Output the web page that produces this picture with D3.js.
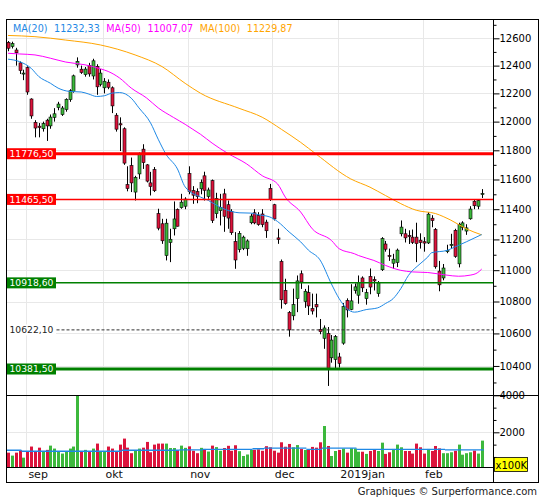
<!DOCTYPE html>
<html>
<head>
<meta charset="utf-8">
<script src="https://cdn.jsdelivr.net/npm/d3@7/dist/d3.min.js"></script>
<style>
  body { margin: 0; background: #fff; }
  svg { display: block; font-family: "DejaVu Sans", Verdana, sans-serif; }
</style>
</head>
<body>
<svg id="chart" width="545" height="500"></svg>
<script>
// trading days shown, 28 aug 2018 -> 25 feb 2019
var dates = [
  "2018-08-28","2018-08-29","2018-08-30","2018-08-31",
  "2018-09-03","2018-09-04","2018-09-05","2018-09-06","2018-09-07","2018-09-10","2018-09-11","2018-09-12","2018-09-13","2018-09-14",
  "2018-09-17","2018-09-18","2018-09-19","2018-09-20","2018-09-21","2018-09-24","2018-09-25","2018-09-26","2018-09-27","2018-09-28",
  "2018-10-01","2018-10-02","2018-10-04","2018-10-05","2018-10-08","2018-10-09","2018-10-10","2018-10-11","2018-10-12","2018-10-15",
  "2018-10-16","2018-10-17","2018-10-18","2018-10-19","2018-10-22","2018-10-23","2018-10-24","2018-10-25","2018-10-26","2018-10-29",
  "2018-10-30","2018-10-31",
  "2018-11-01","2018-11-02","2018-11-05","2018-11-06","2018-11-07","2018-11-08","2018-11-09","2018-11-12","2018-11-13","2018-11-14",
  "2018-11-15","2018-11-16","2018-11-19","2018-11-20","2018-11-21","2018-11-22","2018-11-23","2018-11-26","2018-11-27","2018-11-28",
  "2018-11-29","2018-11-30",
  "2018-12-03","2018-12-04","2018-12-05","2018-12-06","2018-12-07","2018-12-10","2018-12-11","2018-12-12","2018-12-13","2018-12-14",
  "2018-12-17","2018-12-18","2018-12-19","2018-12-20","2018-12-21","2018-12-27","2018-12-28",
  "2019-01-02","2019-01-03","2019-01-04","2019-01-07","2019-01-08","2019-01-09","2019-01-10","2019-01-11","2019-01-14","2019-01-15",
  "2019-01-16","2019-01-17","2019-01-18","2019-01-21","2019-01-22","2019-01-23","2019-01-24","2019-01-25","2019-01-28","2019-01-29",
  "2019-01-30","2019-01-31",
  "2019-02-01","2019-02-04","2019-02-05","2019-02-06","2019-02-07","2019-02-08","2019-02-11","2019-02-12","2019-02-13","2019-02-14",
  "2019-02-15","2019-02-18","2019-02-19","2019-02-20","2019-02-21","2019-02-22","2019-02-25"
];

var open = [
  12570,12540,12514,12420,12340,12385,12160,11995,11968,11950,12010,11970,12030,12100,12050,12085,12155,12215,12405,12374,12335,12400,12325,12395,
  12265,12240,12280,12240,12045,11985,11950,11565,11695,11515,11638,11808,11700,11577,11667,11370,11303,11095,11180,11270,11398,11410,
  11420,11640,11525,11518,11537,11625,11485,11592,11370,11390,11503,11430,11385,11186,11134,11142,11139,11310,11376,11358,11368,11314,
  11540,11430,11210,11056,10871,10730,10710,10818,10977,10800,10857,10755,10780,10625,10570,10600,10450,
  10440,10455,10540,10806,10750,10870,10840,10950,10818,10960,10940,10850,11003,11170,11095,11045,11050,11237,11237,11226,11215,11215,
  11195,11185,11177,11340,11265,10994,10950,11120,11160,11260,11041,11280,11255,11336,11453,11420,11500
];
var high = [
  12580,12575,12530,12430,12370,12395,12165,12010,11990,12000,12020,12050,12095,12140,12110,12165,12230,12335,12460,12400,12390,12420,12450,12410,
  12375,12310,12300,12250,12060,12030,11960,11690,11750,11625,11785,11842,11705,11652,11685,11403,11336,11336,11270,11452,11405,11503,
  11480,11690,11555,11540,11600,11653,11545,11600,11510,11503,11537,11458,11400,11248,11255,11225,11200,11370,11400,11380,11400,11330,
  11570,11436,11270,11069,10945,10740,10882,10966,10998,10880,10903,10850,10850,10690,10650,10640,10590,
  10590,10480,10790,10820,10910,10915,10966,10960,10880,11011,10960,10930,11215,11190,11140,11106,11140,11325,11270,11260,11265,11310,
  11240,11215,11380,11360,11275,11060,11040,11165,11237,11270,11310,11320,11300,11420,11465,11465,11535
];
var low = [
  12505,12525,12400,12340,12295,12190,12020,11890,11890,11930,11865,11950,12000,12080,12040,12070,12140,12205,12385,12340,12320,12320,12300,12190,
  12250,12200,12230,12060,11930,11795,11700,11520,11515,11458,11604,11672,11580,11492,11515,11260,11171,11063,11052,11226,11285,11403,
  11400,11500,11436,11440,11500,11458,11470,11308,11340,11292,11250,11270,11230,11009,11115,11130,11093,11300,11300,11290,11280,11210,
  11455,11325,11171,10755,10780,10580,10682,10733,10880,10760,10715,10718,10700,10595,10505,10279,10420,
  10385,10390,10530,10700,10745,10850,10786,10860,10780,10846,10870,10830,10995,11120,11060,11009,11020,11220,11180,11170,11170,11052,
  11140,11120,11170,11280,11010,10865,10935,11110,11139,11080,11018,11260,11230,11330,11400,11400,11475
];
var close = [
  12527,12561,12494,12364,12346,12210,12040,11955,11959,11986,11970,12032,12055,12124,12096,12158,12219,12326,12431,12350,12375,12340,12435,12247,
  12346,12287,12244,12111,11947,11977,11712,11539,11577,11614,11776,11715,11589,11553,11524,11274,11191,11307,11201,11335,11287,11447,
  11468,11519,11494,11484,11579,11527,11529,11325,11472,11412,11353,11341,11244,11066,11240,11215,11190,11354,11309,11298,11298,11257,
  11465,11335,11200,10811,10788,10622,10780,10931,10924,10865,10772,10740,10766,10611,10634,10382,10559,
  10580,10416,10768,10747,10804,10893,10921,10887,10856,10892,10931,10918,11205,11136,11090,11071,11130,11281,11210,11218,11181,11173,
  11180,11176,11367,11324,11022,10906,11014,11127,11168,11089,11299,11309,11276,11401,11423,11457,11505
];
// volume, x100K
var volume = [
  900,740,900,1030,630,960,1230,960,1170,960,1050,1280,1120,960,850,960,1120,1230,4000,990,1050,960,1120,1390,
  960,960,1230,1120,960,1335,1660,1170,870,1030,1120,1170,1480,920,1335,1390,1390,1390,1150,1150,1000,1280,
  1160,1240,1000,870,1160,1100,960,1280,1200,1000,1150,1270,1000,1300,980,720,800,1050,1050,1080,1000,1250,
  1190,1005,900,1460,1220,1370,1190,1310,1095,1045,1080,1210,1170,1460,2340,1260,720,
  990,1045,1120,900,1140,1120,950,950,833,990,1045,990,1440,833,920,1100,1335,1190,990,990,850,1390,
  1190,850,1100,990,1260,1130,870,870,920,1000,1335,790,870,920,1010,850,1550
];

// moving averages: bar index -> value
var ma20Idx = [0,3,6,8,11,13,16,19,21,23,25,27,29,32,34,37,39,41,44,46,50,52,55,58,60,63,65,68,70,73,76,78,81,84,86,88,90,93,96,98,100,102,104,107,109,110,114,116,119,123];
var ma20    = [12447,12429,12381,12321,12273,12238,12214,12210,12195,12178,12183,12202,12206,12166,12097,11992,11877,11774,11672,11550,
               11481,11459,11414,11385,11376,11374,11363,11348,11318,11249,11184,11130,11067,10911,10818,10755,10733,10749,10760,10787,
               10818,10882,10967,11041,11085,11113,11128,11150,11184,11232];
var ma50Idx = [0,3,7,11,15,20,24,26,29,32,36,39,43,46,48,50,53,57,62,66,70,72,76,79,84,86,90,91,95,98,102,105,109,114,117,120,122,123];
var ma50    = [12490,12485,12478,12454,12426,12406,12377,12358,12310,12238,12167,12097,12029,11981,11946,11911,11850,11780,11706,11626,
               11570,11481,11381,11270,11193,11139,11106,11095,11063,11031,10999,10989,10985,10968,10961,10968,10985,11007];
var ma100Idx = [0,7,15,24,33,40,46,50,60,66,71,76,80,89,94,98,102,106,111,115,119,123];
var ma100    = [12621,12612,12587,12551,12478,12393,12272,12201,12094,12031,11946,11855,11774,11604,11548,11492,11437,11393,11371,11327,11270,11230];

// average volume, piecewise: segment k runs from volAvgIdx[k] to volAvgIdx[k+1]
var volAvgIdx = [0,4,30,45,51,64,67,78,82,91,114,123];
var volAvg    = [1030,975,1030,1055,1075,1110,1140,1080,1140,1080,1045];

var levels      = [11776.5, 11465.5, 10918.6, 10622.1, 10381.5];
var levelLabels = ["11776,50", "11465,50", "10918,60", "10622,10", "10381,50"];

var priceTicks = [10400,10600,10800,11000,11200,11400,11600,11800,12000,12200,12400,12600];
var priceMinor = [10300,10500,10700,10900,11100,11300,11500,11700,11900,12100,12300,12500,12700];
var volTicks = [2000, 4000];
var volMinor = [667, 1333, 2667, 3333];

var monthLabels = ["sep", "okt", "nov", "dec", "2019jan", "feb"];
var monthStarts = ["2018-09-03","2018-10-01","2018-11-01","2018-12-03","2019-01-02","2019-02-01"];

var legendNames  = ["MA(20)", "MA(50)", "MA(100)"];
var legendValues = ["11232,33", "11007,07", "11229,87"];

// ---------------------------------------------------------------------------

var RED = "#dc143c", GREEN = "#3cb83c";
var C20 = "#1e88e5", C50 = "#ff00ff", C100 = "#ffa500";

var L = 6.5, R = 493.5, T = 19.5, PB = 395.5, VB = 467.5, B = 482.5, FR = 538.5;

var svg = d3.select("#chart");

var x = d3.scaleBand().domain(dates).range([6.07, 483.6]).padding(0);
function cx(i) { return x(dates[i]) + x.bandwidth() / 2; }
function px(i) { return Math.round(cx(i)) + 0.5; }

var y = d3.scaleLog().domain([10224.6, 12735.8]).range([395, 20]);
var yv = d3.scaleLinear().domain([0, 4000]).range([469.3, 395.3]);

var defs = svg.append("defs");
defs.append("clipPath").attr("id", "clipP").append("rect")
    .attr("x", L).attr("y", T).attr("width", R - L).attr("height", PB - T);
defs.append("clipPath").attr("id", "clipV").append("rect")
    .attr("x", L).attr("y", PB).attr("width", R - L).attr("height", VB - PB);

// grid
var grid = svg.append("g").attr("stroke", "#e8e8e8").attr("stroke-width", 1);
grid.selectAll("line.hp").data(priceTicks).enter().append("line")
    .attr("x1", L).attr("x2", R)
    .attr("y1", function(d) { return Math.round(y(d)) + 0.5; })
    .attr("y2", function(d) { return Math.round(y(d)) + 0.5; });
grid.selectAll("line.hv").data([2000]).enter().append("line")
    .attr("x1", L).attr("x2", R)
    .attr("y1", function(d) { return Math.round(yv(d)) + 0.5; })
    .attr("y2", function(d) { return Math.round(yv(d)) + 0.5; });
grid.selectAll("line.vm").data(monthStarts).enter().append("line")
    .attr("x1", function(d) { return Math.round(cx(dates.indexOf(d)) + 2.5) + 0.5; })
    .attr("x2", function(d) { return Math.round(cx(dates.indexOf(d)) + 2.5) + 0.5; })
    .attr("y1", T).attr("y2", VB);

var idx = d3.range(dates.length);
function up(i) { return close[i] >= open[i]; }

// volume bars
var vg = svg.append("g").attr("clip-path", "url(#clipV)");
vg.selectAll("rect").data(idx).enter().append("rect")
    .attr("x", function(i) { return Math.round(cx(i)) - 1; })
    .attr("width", 3)
    .attr("y", function(i) { return yv(volume[i]); })
    .attr("height", function(i) { return yv(0) - yv(volume[i]); })
    .attr("fill", function(i) { return up(i) ? GREEN : RED; });

vg.selectAll("line").data(volAvg).enter().append("line")
    .attr("x1", function(d, k) { return cx(volAvgIdx[k]) - 2; })
    .attr("x2", function(d, k) { return cx(volAvgIdx[k + 1]) + (k === volAvg.length - 1 ? 2 : -2); })
    .attr("y1", function(d) { return yv(d); })
    .attr("y2", function(d) { return yv(d); })
    .attr("stroke", C20).attr("stroke-width", 1.3);

// candles
var cg = svg.append("g").attr("clip-path", "url(#clipP)");
cg.selectAll("line.wick").data(idx).enter().append("line")
    .attr("x1", px).attr("x2", px)
    .attr("y1", function(i) { return y(high[i]); })
    .attr("y2", function(i) { return y(low[i]); })
    .attr("stroke", "#000").attr("stroke-width", 1);
cg.selectAll("rect.body").data(idx).enter().append("rect")
    .attr("x", function(i) { return px(i) - 1.5; })
    .attr("width", 3)
    .attr("y", function(i) { return y(Math.max(open[i], close[i])); })
    .attr("height", function(i) {
      return Math.max(1, y(Math.min(open[i], close[i])) - y(Math.max(open[i], close[i])));
    })
    .attr("fill", function(i) { return up(i) ? GREEN : RED; })
    .attr("stroke", "#000").attr("stroke-width", 0.6);

// moving averages
var maLine = d3.line().curve(d3.curveMonotoneX);
function drawMA(ix, vals, color) {
  var pts = ix.map(function(k, j) { return [cx(k), y(vals[j])]; });
  cg.append("path").attr("d", maLine(pts))
    .attr("fill", "none").attr("stroke", color).attr("stroke-width", 1);
}
drawMA(ma100Idx, ma100, C100);
drawMA(ma50Idx, ma50, C50);
drawMA(ma20Idx, ma20, C20);

// support / resistance levels
var levelStyle = [
  { stroke: "#ff0000", width: 3,   dash: null,  box: "#ff0000", text: "#fff" },
  { stroke: "#ff0000", width: 1.5, dash: null,  box: "#ff0000", text: "#fff" },
  { stroke: "#008000", width: 1.5, dash: null,  box: "#008000", text: "#fff" },
  { stroke: "#333",    width: 1,   dash: "3,2", box: "#fff",    text: "#222" },
  { stroke: "#008000", width: 3,   dash: null,  box: "#008000", text: "#fff" }
];
var lg = svg.append("g");
levels.forEach(function(v, k) {
  var s = levelStyle[k], ly = y(v);
  lg.append("line").attr("x1", L).attr("x2", R).attr("y1", ly).attr("y2", ly)
    .attr("stroke", s.stroke).attr("stroke-width", s.width)
    .attr("stroke-dasharray", s.dash);
  lg.append("rect").attr("x", 7).attr("y", ly - 5.5).attr("width", 49).attr("height", 11)
    .attr("fill", s.box);
  lg.append("text").attr("x", 9.5).attr("y", ly + 3.4)
    .attr("font-size", 9.2).attr("fill", s.text).text(levelLabels[k]);
});

// axes
function styleAxis(g) {
  g.attr("font-family", "DejaVu Sans").attr("font-size", 10);
  g.selectAll("text").attr("fill", "#000");
  g.selectAll("line").attr("stroke", "#000");
}
svg.append("g").attr("transform", "translate(" + R + ",0)")
    .call(d3.axisRight(y).tickValues(priceMinor).tickSize(3).tickSizeOuter(0).tickFormat(""))
    .call(function(g) { g.select(".domain").remove(); styleAxis(g); });
svg.append("g").attr("transform", "translate(" + R + ",0)")
    .call(d3.axisRight(y).tickValues(priceTicks).tickSize(6).tickSizeOuter(0).tickPadding(0).tickFormat(d3.format("d")))
    .call(function(g) { g.select(".domain").remove(); styleAxis(g); });
svg.append("g").attr("transform", "translate(" + R + ",0)")
    .call(d3.axisRight(yv).tickValues(volMinor).tickSize(3).tickSizeOuter(0).tickFormat(""))
    .call(function(g) { g.select(".domain").remove(); styleAxis(g); });
svg.append("g").attr("transform", "translate(" + R + ",0)")
    .call(d3.axisRight(yv).tickValues(volTicks).tickSize(6).tickSizeOuter(0).tickPadding(0).tickFormat(d3.format("d")))
    .call(function(g) { g.select(".domain").remove(); styleAxis(g); });

// x100K unit box
svg.append("rect").attr("x", 494.5).attr("y", 457.5).attr("width", 33).attr("height", 14)
    .attr("fill", "#ffff00").attr("stroke", "#000").attr("stroke-width", 0.8);
svg.append("text").attr("x", 495.5).attr("y", 468.5).attr("font-size", 10).attr("fill", "#000").text("x100K");

// month labels
svg.append("g").selectAll("text").data(monthStarts).enter().append("text")
    .attr("x", function(d) { return cx(dates.indexOf(d)) + 5; })
    .attr("y", 477.5)
    .attr("font-size", 11).attr("fill", "#111")
    .text(function(d, k) { return monthLabels[k]; });

// frame
var fg = svg.append("g").attr("stroke", "#000").attr("stroke-width", 1).attr("fill", "none");
fg.append("rect").attr("x", L).attr("y", T).attr("width", FR - L).attr("height", B - T);
fg.append("line").attr("x1", R).attr("x2", R).attr("y1", T).attr("y2", B);
fg.append("line").attr("x1", L).attr("x2", FR).attr("y1", PB).attr("y2", PB);
fg.append("line").attr("x1", L).attr("x2", R).attr("y1", VB).attr("y2", VB);

// legend, laid out left to right
var legendCol = [C20, C50, C100];
var lx = 13;
legendNames.forEach(function(n, k) {
  [n, legendValues[k]].forEach(function(s) {
    var t = svg.append("text").attr("x", lx).attr("y", 31.5)
      .attr("font-size", 9.6).attr("fill", legendCol[k]).text(s);
    lx += t.node().getComputedTextLength() + 6.5;
  });
});

// credit
svg.append("text").attr("x", 537).attr("y", 494.5).attr("text-anchor", "end")
    .attr("font-size", 10).attr("fill", "#222").text("Graphiques \u00a9 Surperformance.com");
</script>
</body>
</html>
